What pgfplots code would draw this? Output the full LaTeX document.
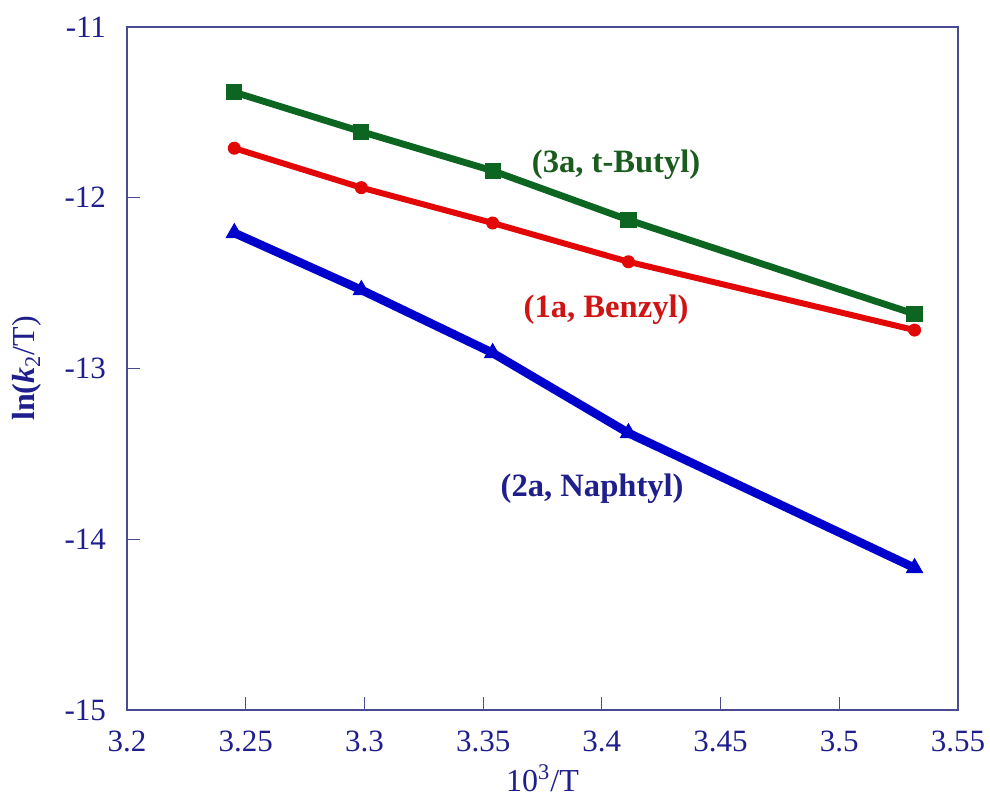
\documentclass[border=0pt]{standalone}
\usepackage{fontspec}
\setmainfont{Liberation Serif}
\usepackage{pgfplots}
\pgfplotsset{compat=1.18}
\definecolor{axcol}{RGB}{74,74,144}
\definecolor{txtcol}{RGB}{30,30,140}
\definecolor{gcol}{RGB}{12,102,34}
\definecolor{gtxt}{RGB}{26,92,30}
\definecolor{rcol}{RGB}{226,8,8}
\definecolor{rtxt}{RGB}{208,20,20}
\definecolor{bcol}{RGB}{0,0,205}
\begin{document}
\begin{tikzpicture}
\begin{axis}[
  name=ax,
  scale only axis,
  width=415.5pt, height=341.5pt,
  xmin=3.2, xmax=3.55, ymin=-15, ymax=-11,
  xtick={3.2,3.25,3.3,3.35,3.4,3.45,3.5,3.55},
  xticklabels={3.2,3.25,3.3,3.35,3.4,3.45,3.5,3.55},
  ytick={-15,-14,-13,-12,-11},
  yticklabels={-15,-14,-13,-12,-11},
  /pgf/number format/assume math mode=true,
  tick pos=left,
  tick align=inside,
  major tick length=6.5pt,
  axis line style={axcol, line width=0.8pt},
  every tick/.style={axcol, line width=0.6pt},
  tick label style={font=\fontsize{15.5}{18}\selectfont, text=txtcol},
  xticklabel style={yshift=-7pt},
  yticklabel style={xshift=-7pt},
  xlabel={10\textsuperscript{3}/T},
  xlabel style={font=\fontsize{16}{19}\selectfont, text=txtcol, at={(axis description cs:0.5,-0.1)}, anchor=center},
  ylabel={\textbf{ln(}\textbf{\textit{k}}\textsubscript{2}/T)},
  ylabel style={font=\fontsize{16}{19}\selectfont, text=txtcol, at={(axis description cs:-0.12,0.5)}, anchor=center, rotate=0},
  clip=false,
]
\addplot[gcol, line width=3.4pt, mark=square*, mark size=3.8pt, mark options={solid, fill=gcol, line width=0.5pt}]
  coordinates {(3.2452,-11.382) (3.2987,-11.613) (3.3540,-11.842) (3.4112,-12.130) (3.5317,-12.681)};
\addplot[rcol, line width=3pt, mark=*, mark size=3pt, mark options={solid, fill=rcol, line width=0.5pt}]
  coordinates {(3.2452,-11.710) (3.2987,-11.941) (3.3540,-12.148) (3.4112,-12.375) (3.5317,-12.775)};
\addplot[bcol, line width=4.3pt, mark=triangle*, mark size=4.6pt, mark options={solid, fill=bcol, line width=0.5pt}]
  coordinates {(3.2452,-12.206) (3.2987,-12.540) (3.3540,-12.909) (3.4112,-13.378) (3.5317,-14.168)};
\node[font=\fontsize{16.3}{19}\selectfont\bfseries, text=gtxt] at (axis cs:3.406,-11.808) {(3a, t-Butyl)};
\node[font=\fontsize{16.3}{19}\selectfont\bfseries, text=rtxt] at (axis cs:3.4018,-12.657) {(1a, Benzyl)};
\node[font=\fontsize{16.3}{19}\selectfont\bfseries, text=txtcol] at (axis cs:3.3959,-13.706) {(2a, Naphtyl)};
\end{axis}
\pgfresetboundingbox
\path[use as bounding box] ([xshift=-63.5pt,yshift=-45pt]ax.south west) rectangle ([xshift=16pt,yshift=13.5pt]ax.north east);
\end{tikzpicture}
\end{document}
